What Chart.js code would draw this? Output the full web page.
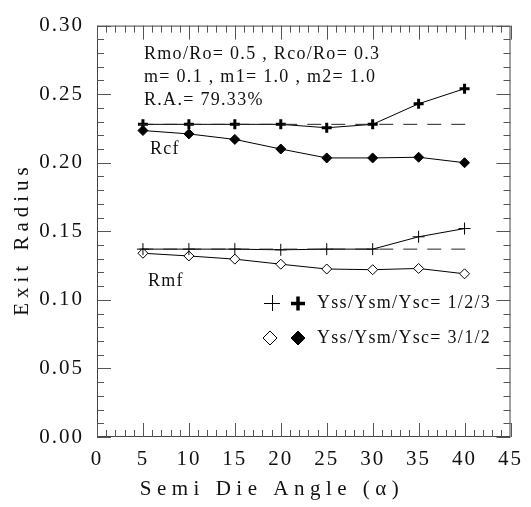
<!DOCTYPE html>
<html>
<head>
<meta charset="utf-8">
<script src="https://cdn.jsdelivr.net/npm/chart.js@4.4.1/dist/chart.umd.min.js"></script>
<style>
  html, body { margin: 0; padding: 0; background: #fff; }
  #wrap { width: 531px; height: 507px; }
</style>
</head>
<body>
<div id="wrap"><canvas id="chart" width="531" height="507"></canvas></div>
<script>
// ---- data ----
const angles  = [5, 10, 15, 20, 25, 30, 35, 40];
const rcf123  = [0.228, 0.228, 0.228, 0.228, 0.2255, 0.228, 0.243, 0.254];
const rcf312  = [0.2235, 0.221, 0.217, 0.210, 0.2035, 0.2035, 0.204, 0.200];
const rmf123  = [0.137, 0.137, 0.137, 0.1365, 0.137, 0.137, 0.146, 0.152];
const rmf312  = [0.134, 0.132, 0.1297, 0.126, 0.1225, 0.122, 0.1229, 0.119];
const refX    = [4.6, 40.3];
const rcfRef  = [0.228, 0.228];
const rmfRef  = [0.137, 0.137];
const xTicks  = [0, 5, 10, 15, 20, 25, 30, 35, 40, 45];
const yTicks  = [0.00, 0.05, 0.10, 0.15, 0.20, 0.25, 0.30];
const notes   = ['Rmo/Ro= 0.5 , Rco/Ro= 0.3', 'm= 0.1 , m1= 1.0 , m2= 1.0', 'R.A.= 79.33%'];
const legendText = ['Yss/Ysm/Ysc= 1/2/3', 'Yss/Ysm/Ysc= 3/1/2'];

const SERIF = '"Liberation Serif", "DejaVu Serif", serif';

function pts(xs, ys) {
  return xs.map((x, i) => ({ x: x, y: ys[i] }));
}

// series with markers
function markSet(ys, style, radius, bw, fill) {
  return {
    data: pts(angles, ys),
    borderColor: '#000',
    borderWidth: 1,
    pointStyle: style,
    pointRadius: radius,
    pointBorderWidth: bw,
    pointBackgroundColor: fill,
    pointBorderColor: '#000',
    tension: 0
  };
}

// dashed reference line
function refSet(ys) {
  return {
    data: pts(refX, ys),
    borderColor: '#222',
    borderWidth: 1,
    borderDash: [14, 10],
    pointRadius: 0,
    tension: 0
  };
}

// ── frame, inner ticks, texts ────────────────────────────────
const decor = {
  id: 'decor',
  beforeDraw(chart) {
    // etwas Sperrung für die Achsenbeschriftung
    chart.ctx.letterSpacing = '2px';
  },
  afterDraw(chart) {
    const ctx = chart.ctx;
    const a = chart.chartArea;
    const xs = chart.scales.x, ys = chart.scales.y;
    ctx.save();

    // frame
    ctx.strokeStyle = '#444';
    ctx.lineWidth = 1;
    ctx.strokeRect(a.left + 0.5, a.top + 0.5, a.right - a.left - 1, a.bottom - a.top - 1);

    // inner ticks on all sides
    ctx.strokeStyle = '#555';
    for (let v = 0; v <= 45; v++) {
      const px = Math.round(xs.getPixelForValue(v)) + 0.5;
      const len = v % 5 === 0 ? 14 : 7;
      ctx.beginPath();
      ctx.moveTo(px, a.bottom); ctx.lineTo(px, a.bottom - len);
      ctx.moveTo(px, a.top);    ctx.lineTo(px, a.top + len);
      ctx.stroke();
    }
    for (let i = 0; i <= 30; i++) {
      const py = Math.round(ys.getPixelForValue(i / 100)) + 0.5;
      const len = i % 5 === 0 ? 14 : 7;
      ctx.beginPath();
      ctx.moveTo(a.left, py);  ctx.lineTo(a.left + len, py);
      ctx.moveTo(a.right, py); ctx.lineTo(a.right - len, py);
      ctx.stroke();
    }

    // annotations
    ctx.fillStyle = '#111';
    ctx.textBaseline = 'middle';
    ctx.textAlign = 'left';
    ctx.font = '18px ' + SERIF;
    ctx.letterSpacing = '1.3px';
    notes.forEach((t, i) => ctx.fillText(t, 144, 54 + i * 23));
    ctx.fillText('Rcf', 150, 149);
    ctx.fillText('Rmf', 148, 281);
    legendText.forEach((t, i) => ctx.fillText(t, 317, 303 + i * 35));

    // legend markers
    ctx.strokeStyle = '#000';
    ctx.lineWidth = 1;
    ctx.beginPath();
    ctx.moveTo(264, 303.5); ctx.lineTo(280, 303.5);
    ctx.moveTo(272.5, 295); ctx.lineTo(272.5, 311);
    ctx.stroke();
    ctx.lineWidth = 3.5;
    ctx.beginPath();
    ctx.moveTo(291, 303.5); ctx.lineTo(305, 303.5);
    ctx.moveTo(298, 296.5); ctx.lineTo(298, 310.5);
    ctx.stroke();
    const dia = (cx, cy, r, fill) => {
      ctx.beginPath();
      ctx.moveTo(cx, cy - r); ctx.lineTo(cx + r, cy);
      ctx.lineTo(cx, cy + r); ctx.lineTo(cx - r, cy);
      ctx.closePath();
      if (fill) { ctx.fillStyle = '#000'; ctx.fill(); }
      ctx.lineWidth = 1;
      ctx.stroke();
    };
    dia(270, 338, 7, false);
    dia(298, 338, 7, true);

    // axis titles
    ctx.fillStyle = '#111';
    ctx.textAlign = 'center';
    ctx.font = '21px ' + SERIF;
    ctx.letterSpacing = '5.5px';
    ctx.fillText('Semi Die Angle (\u03B1)', 272, 489);
    ctx.save();
    ctx.translate(22, 239);
    ctx.rotate(-Math.PI / 2);
    ctx.letterSpacing = '5px';
    ctx.fillText('Exit Radius', 0, 0);
    ctx.restore();

    ctx.restore();
    ctx.letterSpacing = '0px';
  }
};

new Chart(document.getElementById('chart'), {
  type: 'line',
  data: {
    datasets: [
      refSet(rcfRef),
      refSet(rmfRef),
      markSet(rcf123, 'cross', 5, 3, '#000'),
      markSet(rcf312, 'rectRot', 5, 1, '#000'),
      markSet(rmf123, 'cross', 6, 1, '#000'),
      markSet(rmf312, 'rectRot', 5, 1, '#fff')
    ]
  },
  options: {
    responsive: false,
    animation: false,
    layout: { padding: { top: 17, right: 13, left: 0, bottom: 0 } },
    plugins: { legend: { display: false }, tooltip: { enabled: false } },
    scales: {
      x: {
        type: 'linear',
        min: 0, max: 45,
        afterBuildTicks: s => { s.ticks = xTicks.map(v => ({ value: v })); },
        afterFit: s => { s.height = 70; },
        grid: { display: false, drawTicks: false },
        border: { display: false },
        ticks: {
          color: '#111', padding: 10,
          maxRotation: 0, autoSkip: false,
          font: { family: SERIF, size: 21 }
        }
      },
      y: {
        type: 'linear',
        min: 0, max: 0.30,
        afterBuildTicks: s => { s.ticks = yTicks.map(v => ({ value: v })); },
        afterFit: s => { s.width = 97; },
        grid: { display: false, drawTicks: false },
        border: { display: false },
        ticks: {
          color: '#111', padding: 13,
          font: { family: SERIF, size: 21 },
          callback: v => v.toFixed(2)
        }
      }
    }
  },
  plugins: [decor]
});
</script>
</body>
</html>
